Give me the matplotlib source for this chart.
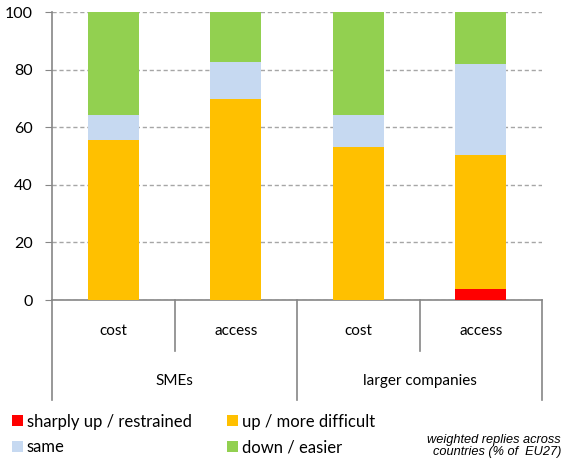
import matplotlib
matplotlib.use("Agg")
import matplotlib.pyplot as plt
from matplotlib.patches import Patch
from matplotlib.lines import Line2D
from matplotlib.transforms import blended_transform_factory

plt.rcParams['font.family'] = ['Lato', 'DejaVu Sans']

groups = ['SMEs', 'larger companies']
categories = ['cost', 'access', 'cost', 'access']
sharply_up = [0, 0, 0, 3.9]
up = [55.4, 69.8, 53.1, 46.4]
same = [8.8, 12.7, 11.1, 31.7]
down = [35.8, 17.5, 35.8, 18.0]

series = [
    ('sharply up / restrained', sharply_up, '#FF0000'),
    ('up / more difficult', up, '#FFC000'),
    ('same', same, '#C6D9F1'),
    ('down / easier', down, '#92D050'),
]

W, H = 564, 461
fig = plt.figure(figsize=(W / 100, H / 100), dpi=100)
ax = fig.add_axes([52 / W, 1 - 300 / H, 490 / W, 288 / H])

x = [i + 0.5 for i in range(len(categories))]
bottom = [0] * len(categories)
for name, vals, color in series:
    ax.bar(x, vals, width=0.42, bottom=bottom, color=color, zorder=3)
    bottom = [b + v for b, v in zip(bottom, vals)]

ax.set_xlim(0, 4)
ax.set_ylim(0, 100)
ax.set_yticks(range(0, 101, 20))
ax.set_xticks([])
ax.yaxis.grid(True, linestyle=(0, (3, 2)), color='#A6A6A6', linewidth=1, zorder=0)
for s in ['top', 'right']:
    ax.spines[s].set_visible(False)
for s in ['left', 'bottom']:
    ax.spines[s].set_color('#868686')
    ax.spines[s].set_linewidth(1.2)
ax.tick_params(axis='y', length=5, color='#868686', labelsize=11.5, pad=9)

# category separators and labels below the axis
trans = blended_transform_factory(ax.transData, fig.transFigure)
def yf(py):
    return 1 - py / H

for xs in [1, 3]:
    fig.add_artist(Line2D([xs, xs], [yf(300), yf(351)], transform=trans, color='#868686', lw=1.2))
for xs in [0, 2, 4]:
    fig.add_artist(Line2D([xs, xs], [yf(300), yf(400)], transform=trans, color='#868686', lw=1.2))
for xi, lab in zip(x, categories):
    fig.text(xi, yf(331), lab, transform=trans, ha='center', va='center', fontsize=11)
for gi, g in enumerate(groups):
    fig.text(1 + 2 * gi, yf(381), g, transform=trans, ha='center', va='center', fontsize=11)

order = [0, 2, 1, 3]
handles = [Patch(facecolor=series[i][2], label=series[i][0]) for i in order]
fig.legend(handles=handles, ncol=2, loc='upper left', bbox_to_anchor=(5 / W, 1 - 407 / H),
           frameon=False, fontsize=12, handlelength=0.66, handleheight=0.66,
           handletextpad=0.25, columnspacing=2.1, labelspacing=0.57, borderaxespad=0)

fig.text(561 / W, yf(446), 'weighted replies across\ncountries (% of  EU27)', ha='right',
         va='center', fontsize=9.2, style='italic', family=['Liberation Sans'], linespacing=1.0)

fig.savefig('out.png', dpi=100)
